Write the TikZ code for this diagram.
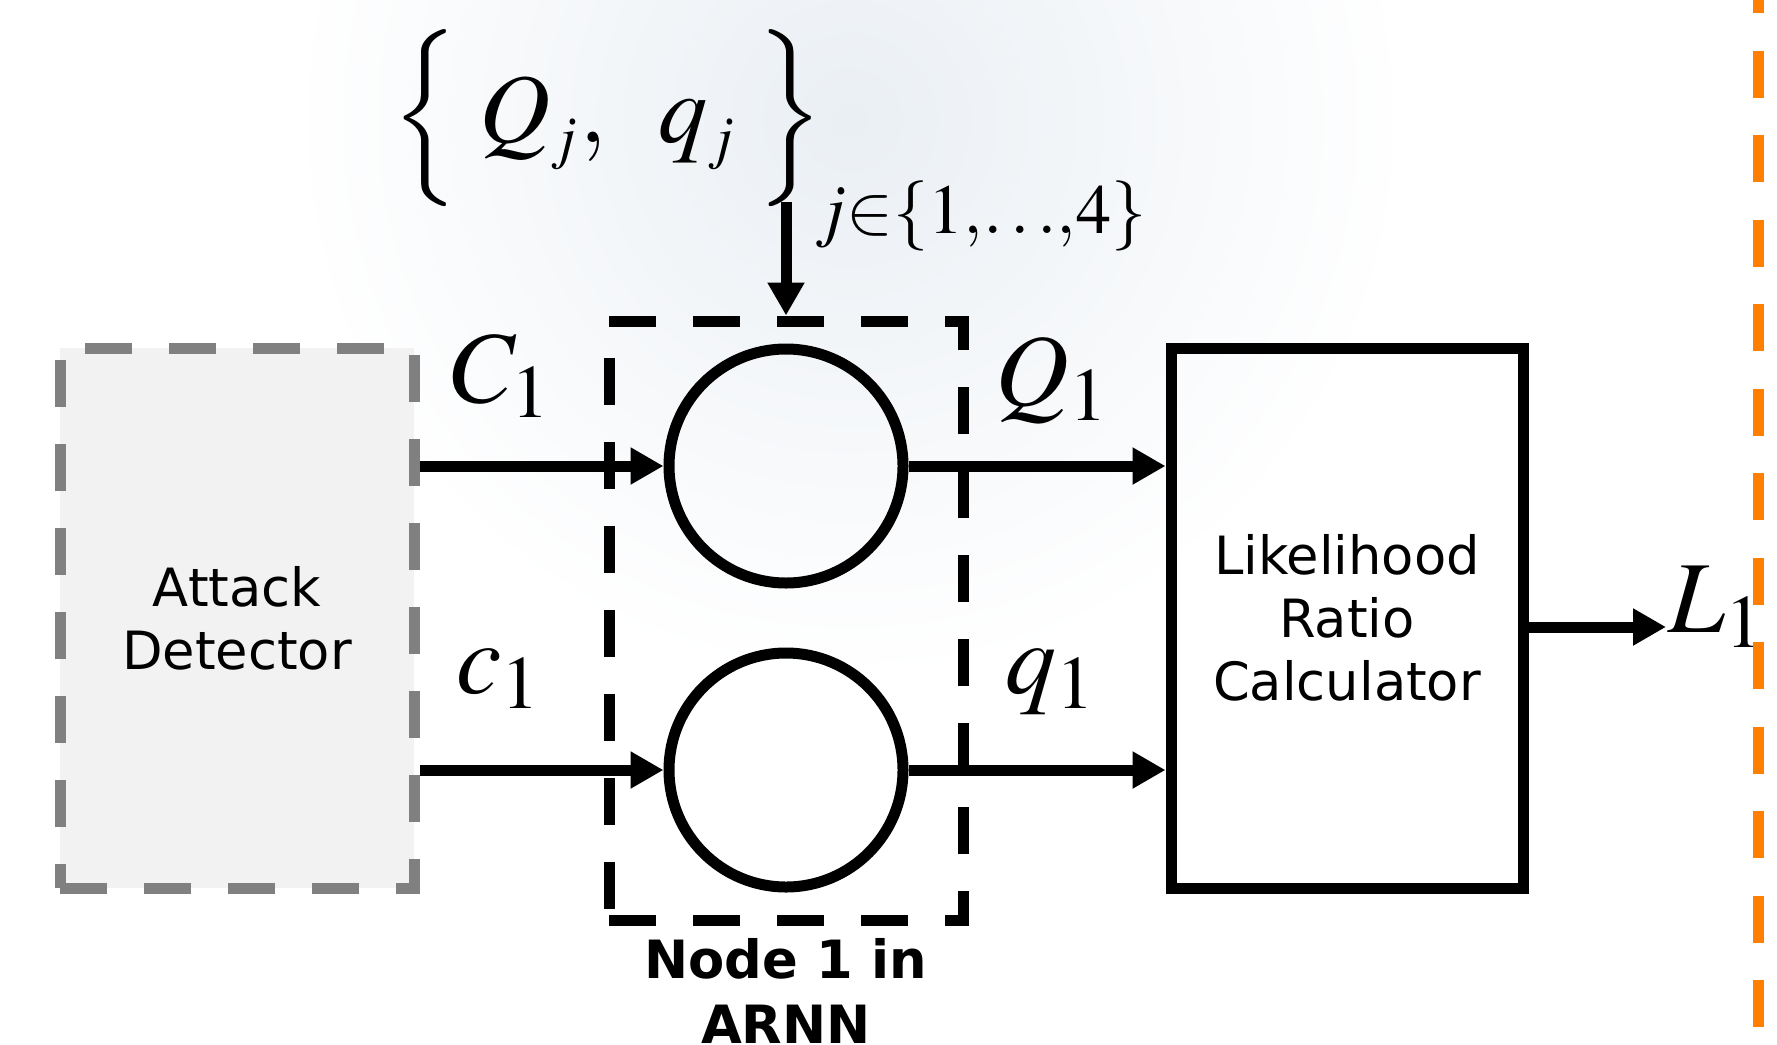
\documentclass[tikz,border=0pt]{standalone}
\usepackage{mathptmx}
\usepackage[no-math]{fontspec}
\setsansfont{DejaVu Sans}
\usetikzlibrary{arrows.meta, positioning}
\definecolor{dashgray}{RGB}{128,128,128}
\definecolor{detfill}{RGB}{242,242,242}
\definecolor{sepline}{RGB}{255,128,0}
\definecolor{wmark}{RGB}{234,239,244}

\begin{document}
\begin{tikzpicture}[
  x=0.1mm, y=-0.1mm,
  detbox/.style={rectangle, draw=dashgray, fill=detfill, line width=1.1mm,
                 dash pattern=on 4.7mm off 3.7mm,
                 minimum width=35.4mm, minimum height=54mm, align=center,
                 font=\sffamily\fontsize{15}{18}\selectfont},
  lrbox/.style={rectangle, draw=black, line width=1.1mm,
                minimum width=35.2mm, minimum height=54mm, align=center,
                font=\sffamily\fontsize{15}{18}\selectfont},
  arnnbox/.style={rectangle, draw=black, line width=1.1mm,
                  dash pattern=on 4.7mm off 3.7mm,
                  minimum width=35.4mm, minimum height=59.9mm},
  unit/.style={circle, draw=black, line width=1.1mm, minimum size=23.4mm,
               inner sep=0pt},
  sym/.style={inner sep=0pt, anchor=base, font=\fontsize{29}{35}\selectfont},
  arrow/.style={-{Triangle[length=3.3mm, width=3.5mm]}, line width=1.1mm, black}
]

% canvas and faint watermark
\fill[white] (0,0) rectangle (1777,1044);
\useasboundingbox (0,0) rectangle (1777,1044);
\shade[inner color=wmark, outer color=white] (850,120) circle (560);

\node[detbox] (det) at (237,618) {Attack\\Detector};
\node[lrbox] (lr) at (1347,618) {Likelihood\\Ratio\\Calculator};

\node[unit] (ctop) at (786,466) {};
\node[unit] (cbot) at (786,770) {};
\node[arnnbox] (arnn) at (786,620.5) {};
\node[below=1.2mm of arnn, inner sep=0pt, align=center,
      font=\sffamily\bfseries\fontsize{15}{18.5}\selectfont] (arnnlab)
  {Node 1 in\\ARNN};

% set of inputs from the other nodes
\node[inner sep=0pt, font=\fontsize{28}{34}\selectfont] (qset) at (608,118)
  {$\left\{\vrule height 34pt depth 20pt width 0pt\;
    Q_{\scriptscriptstyle j},\ \,q_{\scriptscriptstyle j}\;\right\}$};
\node[inner sep=0pt, anchor=base west, font=\fontsize{20}{24}\selectfont]
  (qidx) at (814,233) {$j{\in}\{1{,}\mathord{\ldotp\ldotp\ldotp}{,}4\}$};
\coordinate (qin) at (786,202);

\node[sym] (C1) at (501,402) {$C_1$};
\node[sym] (c1) at (499,693) {$c_1$};
\node[sym] (Q1) at (1052,405) {$Q_1$};
\node[sym] (q1) at (1051,693) {$q_1$};
\coordinate (Lin) at (1666,627);
\node[inner sep=0pt, anchor=base west, font=\fontsize{29}{35}\selectfont]
  (L1) at (1668,632) {$L_1$};

\draw[arrow] (qin) -- (arnn.north);
\draw[arrow] (det.east |- ctop) -- (ctop.west);
\draw[arrow] (det.east |- cbot) -- (cbot.west);
\draw[arrow] (ctop.east) -- (lr.west |- ctop);
\draw[arrow] (cbot.east) -- (lr.west |- cbot);
\draw[arrow] (lr.east |- Lin) -- (Lin);

% separator on the right
\draw[sepline, line width=1.1mm, dash pattern=on 4.7mm off 3.75mm,
      dash phase=3.4mm] (1758,0) -- (1758,1044);

\end{tikzpicture}
\end{document}
